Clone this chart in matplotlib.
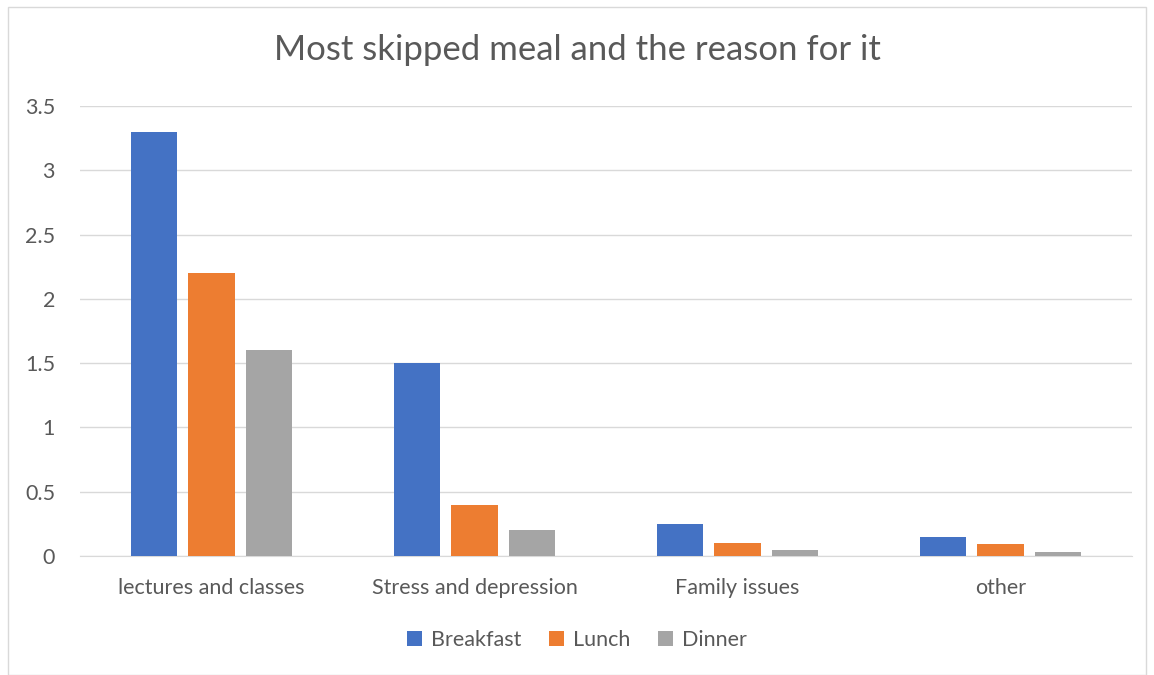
import numpy as np
import matplotlib.pyplot as plt
from matplotlib.patches import Rectangle

categories = ["lectures and classes", "Stress and depression", "Family issues", "other"]
series = ["Breakfast", "Lunch", "Dinner"]
breakfast = [3.3, 1.5, 0.25, 0.15]
lunch = [2.2, 0.4, 0.1, 0.09]
dinner = [1.6, 0.2, 0.05, 0.03]
colors = ["#4472C4", "#ED7D31", "#A5A5A5"]

plt.rcParams['font.family'] = ['Lato', 'DejaVu Sans']
text_col = "#595959"

fig = plt.figure(figsize=(11.54, 6.75), dpi=100)
fig.patches.append(Rectangle((8/1154, 0), 1 - 16/1154, 1 - 7/675, transform=fig.transFigure,
                             fill=False, edgecolor="#D9D9D9", lw=1))
ax = fig.add_axes([80/1154, 1 - 556/675, (1132 - 80)/1154, (556 - 106)/675])

x = np.arange(len(categories))
width = 0.175
step = 0.22
for i, (name, vals) in enumerate(zip(series, [breakfast, lunch, dinner])):
    ax.bar(x + (i - 1) * step, vals, width, color=colors[i], label=name, zorder=3)

ax.set_xlim(-0.5, len(categories) - 0.5)
ax.set_ylim(0, 3.5)
ax.set_yticks(np.arange(0, 3.51, 0.5))
ax.set_yticklabels(["0", "0.5", "1", "1.5", "2", "2.5", "3", "3.5"])
ax.set_xticks(x)
ax.set_xticklabels(categories)
ax.grid(axis='y', color="#D9D9D9", lw=1, zorder=0)
for s in ["top", "right", "left"]:
    ax.spines[s].set_visible(False)
ax.spines["bottom"].set_color("#D9D9D9")
ax.tick_params(axis='both', length=0, colors=text_col, labelsize=15.5)
ax.tick_params(axis='x', pad=16)
ax.tick_params(axis='y', pad=18)

fig.text(0.5, 1 - 50/675, "Most skipped meal and the reason for it", ha='center', va='center',
         fontsize=25, color=text_col)

leg = fig.legend(loc='center', bbox_to_anchor=(0.5, 1 - 640/675), ncol=3, frameon=False,
                 fontsize=15.5, handlelength=0.7, handleheight=0.7, columnspacing=1.3,
                 handletextpad=0.4, labelcolor=text_col)

fig.savefig("out.png", dpi=100)
